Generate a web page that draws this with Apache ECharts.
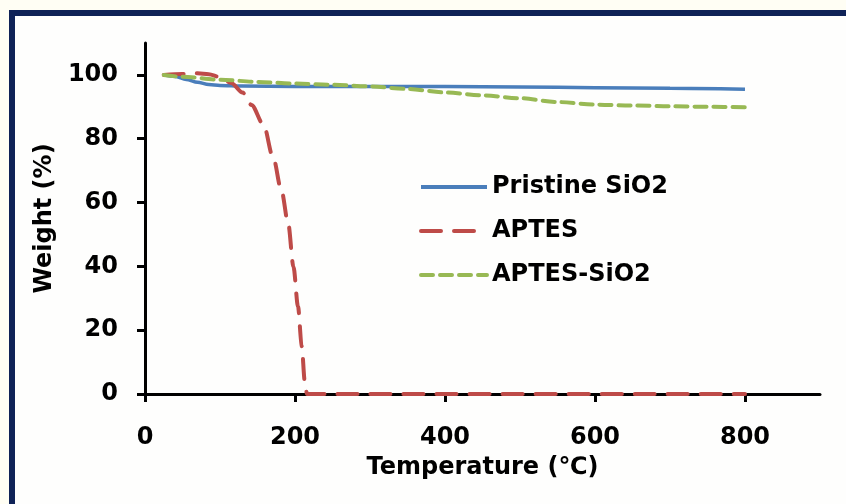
<!DOCTYPE html>
<html>
    <head>
        <meta charset="utf-8" />
        <script src="https://cdnjs.cloudflare.com/ajax/libs/echarts/6.0.0/echarts.min.js"></script>
        <style>
            body { margin: 0; background: #fffef4; }
            #frame {
                position: absolute; left: 9px; top: 10px; width: 837px; height: 488px;
                border-left: 6px solid #0f2257; border-top: 6px solid #0f2257;
                border-bottom: 3px solid #93a6bf; background: #fefefd;
            }
            #main { position: absolute; left: 0; top: 0; width: 846px; height: 504px; }
        </style>
    </head>
    <body>
        <div id="frame"></div>
        <div id="main"></div>
        <script type="text/javascript">
            // TGA curves
            const seriesNames = ["Pristine SiO2", "APTES", "APTES-SiO2"];
            const xTicks = [0, 200, 400, 600, 800];
            const yTicks = [0, 20, 40, 60, 80, 100];

            const tempPristine = [25, 40, 55, 70, 85, 100, 130, 200, 300, 400, 500, 600, 700, 800];
            const weightPristine = [100, 99.5, 98.6, 97.7, 97.0, 96.7, 96.5, 96.4, 96.4, 96.4, 96.2, 96.0, 95.8, 95.5];

            const tempAptes = [25, 50, 70, 85, 100, 115, 130, 142, 158, 171, 182, 191, 198, 204, 209, 213, 216, 800];
            const weightAptes = [100, 100.3, 100.5, 100.2, 99.3, 97.5, 94.5, 90.6, 84.4, 74, 63.7, 53.3, 39.8, 27.4, 15, 4, 0, 0];

            const tempAptesSio2 = [25, 50, 100, 150, 200, 250, 300, 350, 400, 450, 500, 550, 600, 650, 700, 750, 800];
            const weightAptesSio2 = [100, 99.4, 98.5, 97.8, 97.3, 96.9, 96.4, 95.6, 94.5, 93.6, 92.7, 91.5, 90.7, 90.4, 90.2, 90.0, 89.9];

            const pairs = (xs, ys) => xs.map((x, i) => [x, ys[i]]);

            var myChart = echarts.init(document.getElementById("main"));
            const font = { fontFamily: "DejaVu Sans", fontWeight: "bold", color: "#000" };

            myChart.setOption({
                animation: false,
                grid: { left: 145, right: 26, top: 43, bottom: 110 },
                legend: {
                    orient: "vertical",
                    left: 414,
                    top: 170,
                    itemWidth: 66,
                    itemHeight: 14,
                    itemGap: 20,
                    itemStyle: { opacity: 0 },
                    lineStyle: { width: 4 },
                    textStyle: Object.assign({ fontSize: 24, lineHeight: 24 }, font),
                    data: seriesNames,
                },
                xAxis: {
                    type: "value",
                    min: 0,
                    max: 900,
                    name: "Temperature (℃)",
                    nameLocation: "middle",
                    nameGap: 62,
                    nameTextStyle: Object.assign({ fontSize: 24 }, font),
                    axisLine: { lineStyle: { color: "#000", width: 3 } },
                    axisTick: { customValues: xTicks, length: 8, lineStyle: { color: "#000", width: 3 } },
                    axisLabel: Object.assign({ customValues: xTicks, fontSize: 24, margin: 32 }, font),
                    splitLine: { show: false },
                },
                yAxis: {
                    type: "value",
                    min: 0,
                    max: 110,
                    name: "Weight (%)",
                    nameLocation: "middle",
                    nameGap: 86,
                    nameTextStyle: Object.assign({ fontSize: 24 }, font),
                    axisLine: { show: true, lineStyle: { color: "#000", width: 3 } },
                    axisTick: { show: true, customValues: yTicks, length: 8, lineStyle: { color: "#000", width: 3 } },
                    axisLabel: Object.assign({ customValues: yTicks, fontSize: 24, margin: 27 }, font),
                    splitLine: { show: false },
                },
                series: [
                    {
                        name: seriesNames[0],
                        type: "line",
                        symbol: "none",
                        smooth: 0.3,
                        smoothMonotone: "x",
                        color: "#4a7ebb",
                        lineStyle: { width: 3.5 },
                        data: pairs(tempPristine, weightPristine),
                        z: 3,
                    },
                    {
                        name: seriesNames[1],
                        type: "line",
                        symbol: "none",
                        smooth: 0.3,
                        smoothMonotone: "x",
                        color: "#be4b48",
                        lineStyle: { width: 4, type: [20, 13], cap: "round" },
                        data: pairs(tempAptes, weightAptes),
                        z: 4,
                    },
                    {
                        name: seriesNames[2],
                        type: "line",
                        symbol: "none",
                        smooth: 0.3,
                        smoothMonotone: "x",
                        color: "#98b954",
                        lineStyle: { width: 4, type: [12, 7], cap: "round" },
                        data: pairs(tempAptesSio2, weightAptesSio2),
                        z: 5,
                    },
                ],
            });
        </script>
    </body>
</html>
